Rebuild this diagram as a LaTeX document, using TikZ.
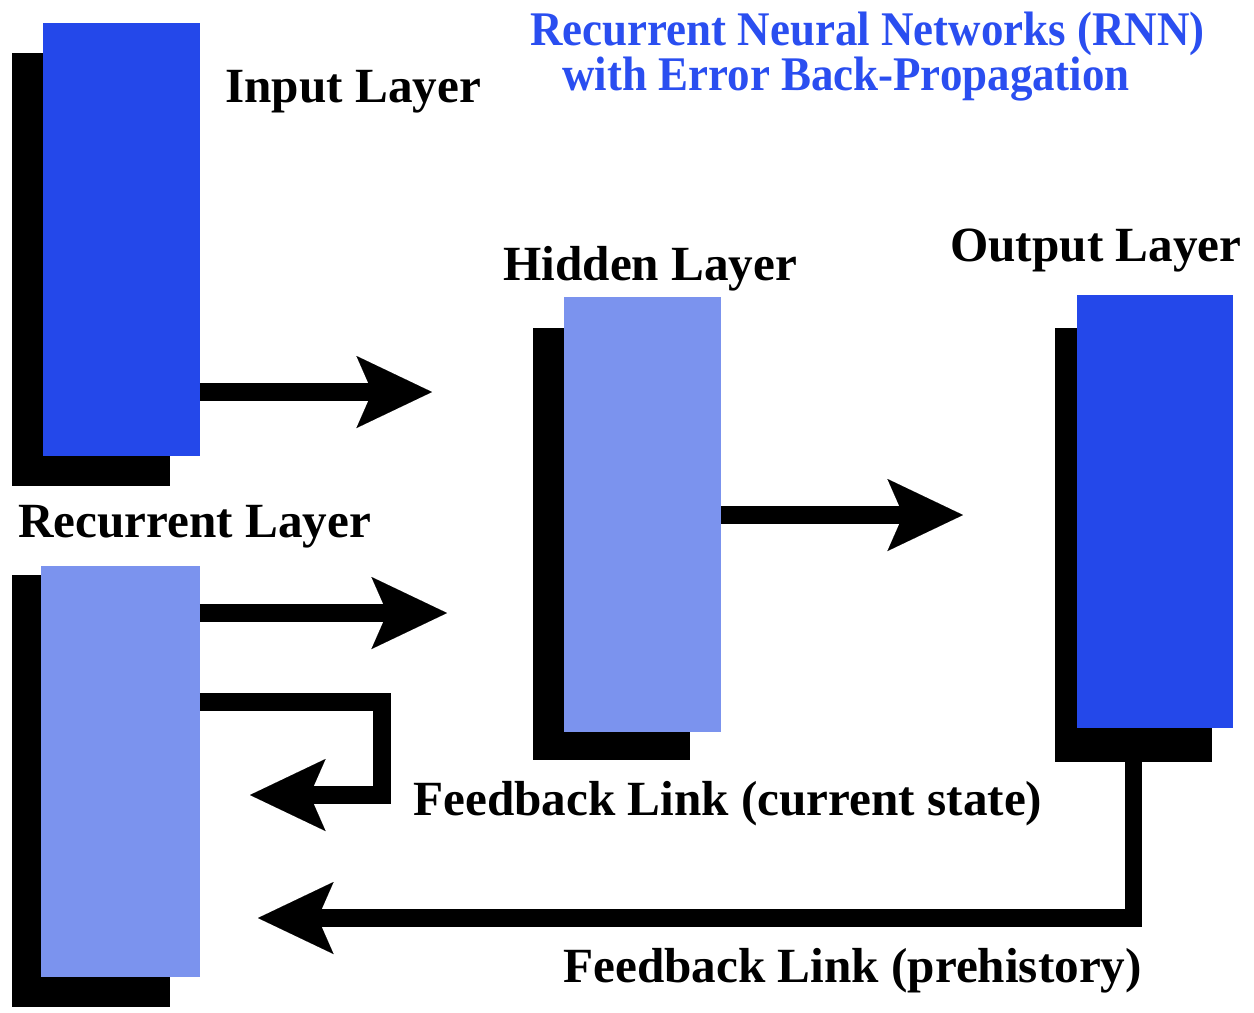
\documentclass[tikz,border=0pt]{standalone}
\usepackage{fontspec}
\setmainfont{Liberation Serif}
\newfontfamily\titlefont[FakeStretch=0.93]{Liberation Serif}
\usetikzlibrary{arrows.meta,positioning}
\definecolor{rnnblue}{HTML}{2448EA}
\definecolor{rnnlight}{HTML}{7B93EE}
\definecolor{rnntitle}{HTML}{2A4EF0}
\tikzset{
  layerbox/.style={rectangle,inner sep=0pt,outer sep=0pt,anchor=north west},
  layershadow/.style={layerbox,fill=black},
  bigarrow/.style={line width=10pt,
    -{Stealth[length=43pt,width=41pt,inset=9pt,line width=0.01pt]}},
  lbl/.style={anchor=base west,inner sep=0pt,
    font=\fontsize{28}{32}\selectfont\bfseries},
  titlelbl/.style={anchor=base west,inner sep=0pt,text=rnntitle,
    font=\titlefont\fontsize{27.5}{31}\selectfont\bfseries},
}

\begin{document}
\begin{tikzpicture}[x=0.02cm,y=-0.02cm]
  \useasboundingbox (0,0) rectangle (1254,1012);

  % ---- Shadows ------------------------------------------------
  \node[layershadow,minimum width=3.16cm,minimum height=8.66cm] (inshadow)  at (12,53)   {};
  \node[layershadow,minimum width=3.14cm,minimum height=8.64cm] (hidshadow) at (533,328) {};
  \node[layershadow,minimum width=3.14cm,minimum height=8.68cm] (outshadow) at (1055,328) {};
  \node[layershadow,minimum width=3.16cm,minimum height=8.64cm] (recshadow) at (12,575)  {};

  % ---- Layers -------------------------------------------------
  \node[layerbox,fill=rnnblue, minimum width=3.14cm,minimum height=8.66cm] (input)     at (43,23)   {};
  \node[layerbox,fill=rnnlight,minimum width=3.14cm,minimum height=8.70cm] (hidden)    at (564,297) {};
  \node[layerbox,fill=rnnblue, minimum width=3.12cm,minimum height=8.66cm] (output)    at (1077,295) {};
  \node[layerbox,fill=rnnlight,minimum width=3.18cm,minimum height=8.22cm] (recurrent) at (41,566)  {};

  % ---- Labels -------------------------------------------------
  \node[titlelbl] (title1) at (530,45) {Recurrent Neural Networks (RNN)};
  \node[titlelbl] (title2) at (562,90) {with Error Back-Propagation};
  \node[lbl] (inlabel)  at (225,102) {Input Layer};
  \node[lbl] (hidlabel) at (503,280) {Hidden Layer};
  \node[lbl] (outlabel) at (950,261) {Output Layer};
  \node[lbl] (reclabel) at (18,537)  {Recurrent Layer};
  \node[lbl] (nowlabel) at (413,815) {Feedback Link (current state)};
  \node[lbl] (oldlabel) at (563,982) {Feedback Link (prehistory)};

  % ---- Connectors ---------------------------------------------
  \coordinate (in2hid)  at (432,392);
  \coordinate (rec2hid) at (447,613);
  \coordinate (hid2out) at (963,515);
  \coordinate (fbturn)  at (382,702);
  \coordinate (fbnow)   at (250,795);
  \coordinate (fbold)   at (258,918);

  \draw[bigarrow] (input.east |- in2hid) -- (in2hid);
  \draw[bigarrow] (recurrent.east |- rec2hid) -- (rec2hid);
  \draw[bigarrow] (hidden.east |- hid2out) -- (hid2out);
  % feedback of the current state
  \draw[bigarrow] (recurrent.east |- fbturn) -- (fbturn) |- (fbnow);
  % feedback of the prehistory
  \draw[bigarrow] (outshadow.south) |- (fbold);

\end{tikzpicture}
\end{document}
